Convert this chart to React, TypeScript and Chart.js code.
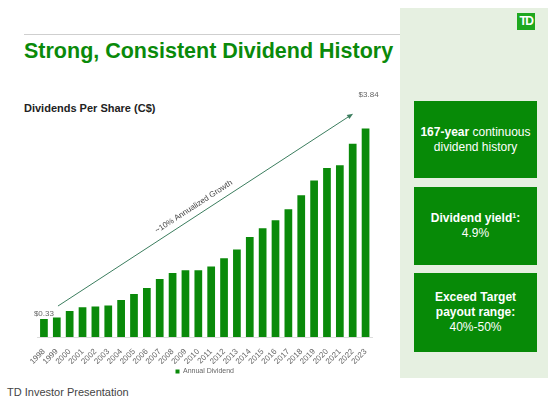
import React, { useEffect, useRef } from "react";
import { Chart, registerables } from "chart.js";

Chart.register(...registerables);

const years = ["1998","1999","2000","2001","2002","2003","2004","2005","2006","2007","2008","2009","2010","2011","2012","2013","2014","2015","2016","2017","2018","2019","2020","2021","2022","2023"];
const dividends = [0.33,0.36,0.48,0.55,0.56,0.58,0.68,0.79,0.90,1.07,1.18,1.23,1.23,1.30,1.45,1.61,1.84,2.00,2.15,2.35,2.61,2.88,3.11,3.16,3.56,3.84];
const seriesName = "Annual Dividend";
const labelledBars = [0, 25];
const growthText = "~10% Annualized Growth";
const arrowFrom = [1.09, 0.57];
const arrowTo = [24.03, 4.11];
const yMax = 4.4;

const FONT = 'Arial, "Liberation Sans", sans-serif';
const BAR_GREEN = "#0a8a0a";

const annotations = {
  id: "annotations",
  afterDatasetsDraw(chart: any) {
    const { ctx, scales } = chart;
    const x = scales.x, y = scales.y;
    ctx.save();
    // value labels
    ctx.font = `8px ${FONT}`;
    ctx.fillStyle = "#666";
    ctx.textAlign = "center";
    ctx.textBaseline = "bottom";
    labelledBars.forEach((i, k) => {
      const px = x.getPixelForValue(i);
      const py = y.getPixelForValue(dividends[i]);
      const text = "$" + dividends[i].toFixed(2);
      if (k === 0) ctx.fillText(text, px, py - 1);
      else ctx.fillText(text, px + 3, py - 30);
    });
    // arrow
    const x1 = x.getPixelForValue(arrowFrom[0]);
    const y1 = y.getPixelForValue(arrowFrom[1]);
    const x2 = x.getPixelForValue(arrowTo[0]);
    const y2 = y.getPixelForValue(arrowTo[1]);
    const ang = Math.atan2(y2 - y1, x2 - x1);
    ctx.strokeStyle = "#3b7d5e";
    ctx.fillStyle = "#3b7d5e";
    ctx.lineWidth = 1;
    ctx.beginPath();
    ctx.moveTo(x1, y1);
    ctx.lineTo(x2 - 4 * Math.cos(ang), y2 - 4 * Math.sin(ang));
    ctx.stroke();
    ctx.beginPath();
    ctx.moveTo(x2, y2);
    ctx.lineTo(x2 - 6 * Math.cos(ang) + 2.5 * Math.sin(ang), y2 - 6 * Math.sin(ang) - 2.5 * Math.cos(ang));
    ctx.lineTo(x2 - 6 * Math.cos(ang) - 2.5 * Math.sin(ang), y2 - 6 * Math.sin(ang) + 2.5 * Math.cos(ang));
    ctx.closePath();
    ctx.fill();
    // growth label
    const t = 0.477;
    const mx = x1 + (x2 - x1) * t;
    const my = y1 + (y2 - y1) * t;
    const off = 9;
    const nx = Math.sin(ang) * off;
    const ny = -Math.cos(ang) * off;
    ctx.translate(mx + nx, my + ny);
    ctx.rotate(ang);
    ctx.font = `8px ${FONT}`;
    ctx.fillStyle = "#444";
    ctx.textAlign = "center";
    ctx.textBaseline = "middle";
    ctx.fillText(growthText, 0, 0);
    ctx.restore();
  },
};

function DividendChart() {
  const ref = useRef<HTMLCanvasElement>(null);
  useEffect(() => {
    if (!ref.current) return;
    Chart.defaults.font.family = FONT;
    const chart = new Chart(ref.current, {
      type: "bar",
      data: {
        labels: years,
        datasets: [
          {
            label: seriesName,
            data: dividends,
            backgroundColor: BAR_GREEN,
            barPercentage: 0.6,
            categoryPercentage: 1.0,
          },
        ],
      },
      options: {
        responsive: false,
        animation: false,
        layout: { padding: { left: 37.5, right: 28, top: 18, bottom: 0 } },
        scales: {
          x: {
            grid: { display: false },
            border: { display: true, color: "#dcdcdc" },
            ticks: {
              color: "#666",
              font: { size: 8 },
              maxRotation: 45,
              minRotation: 45,
              autoSkip: false,
              padding: 2,
            },
            afterFit: (s: any) => {
              s.height = 27;
            },
          },
          y: { display: false, min: 0, max: yMax },
        },
        plugins: {
          legend: {
            position: "bottom",
            labels: {
              boxWidth: 4,
              boxHeight: 4,
              padding: 4,
              color: "#666",
              font: { size: 7 },
            },
          },
          tooltip: { enabled: false },
        },
      },
      plugins: [annotations],
    });
    return () => chart.destroy();
  }, []);
  return (
    <canvas
      ref={ref}
      width={400}
      height={305}
      style={{ position: "absolute", left: 0, top: 80 }}
    />
  );
}

const boxStyle: React.CSSProperties = {
  position: "absolute",
  left: 414,
  width: 123,
  background: "#078a07",
  color: "#fff",
  display: "flex",
  alignItems: "center",
  justifyContent: "center",
  textAlign: "center",
  fontSize: 12,
  lineHeight: "15px",
};

export default function App() {
  return (
    <div
      style={{
        position: "fixed",
        left: 0,
        top: 0,
        width: 554,
        height: 405,
        background: "#fff",
        fontFamily: FONT,
        overflow: "hidden",
      }}
    >
      <div style={{ position: "absolute", left: 400, top: 8, width: 148, height: 370, background: "#e6f0e1" }} />
      <div
        style={{
          position: "absolute",
          left: 517,
          top: 13,
          width: 18,
          height: 17,
          background: "#1fa81f",
          color: "#fff",
          fontWeight: "bold",
          fontSize: 12,
          lineHeight: "17px",
          textAlign: "center",
          letterSpacing: -1.5,
        }}
      >
        TD
      </div>
      <div style={{ position: "absolute", left: 24, top: 34, width: 376, height: 1, background: "#cfcfcf" }} />
      <div
        style={{
          position: "absolute",
          left: 24,
          top: 40.8,
          fontSize: 21.5,
          lineHeight: 1,
          fontWeight: "bold",
          color: "#0a8a0a",
          whiteSpace: "nowrap",
        }}
      >
        Strong, Consistent Dividend History
      </div>
      <div
        style={{
          position: "absolute",
          left: 24,
          top: 102.7,
          fontSize: 11,
          lineHeight: 1,
          fontWeight: "bold",
          color: "#222",
          whiteSpace: "nowrap",
        }}
      >
        Dividends Per Share (C$)
      </div>
      <DividendChart />
      <div style={{ ...boxStyle, top: 101, height: 77 }}>
        <div>
          <b>167-year</b> continuous
          <br />
          dividend history
        </div>
      </div>
      <div style={{ ...boxStyle, top: 187, height: 78 }}>
        <div>
          <b>
            Dividend yield<sup style={{ fontSize: 7, verticalAlign: "top", lineHeight: "10px" }}>1</sup>:
          </b>
          <br />
          4.9%
        </div>
      </div>
      <div style={{ ...boxStyle, top: 273, height: 79 }}>
        <div>
          <b>Exceed Target</b>
          <br />
          <b>payout range:</b>
          <br />
          40%-50%
        </div>
      </div>
      <div
        style={{
          position: "absolute",
          left: 7,
          top: 386.7,
          fontSize: 11,
          lineHeight: 1,
          color: "#444",
          whiteSpace: "nowrap",
        }}
      >
        TD Investor Presentation
      </div>
    </div>
  );
}
